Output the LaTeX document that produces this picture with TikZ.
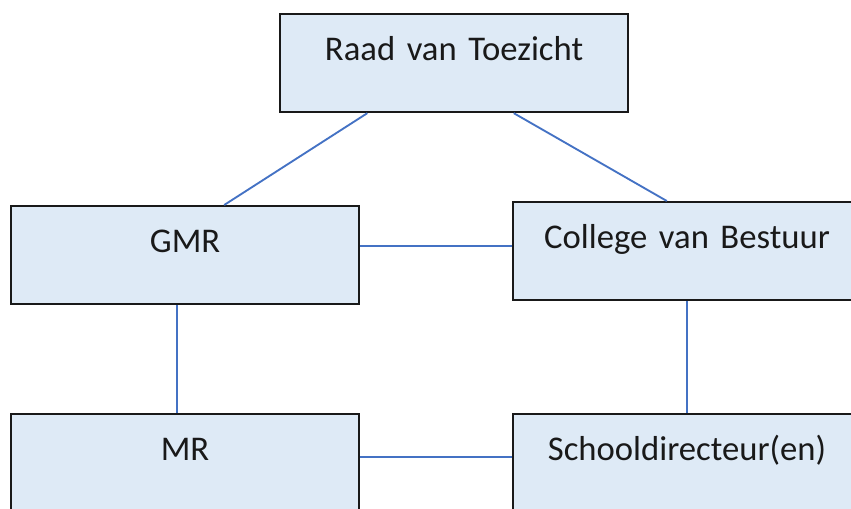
\documentclass[tikz,border=0pt]{standalone}
\usepackage{fontspec}
\setmainfont{Carlito}
\definecolor{boxblue}{HTML}{DEEAF6}
\definecolor{linkblue}{HTML}{4472C4}

\begin{document}
\begin{tikzpicture}[x=0.75pt,y=-0.75pt,
    orgbox/.style={draw=black!90,line width=1.6pt,fill=boxblue,anchor=north west,
      inner sep=0pt,text width=261pt,align=center,text height=34.5pt,text depth=39pt,
      font=\fontsize{26}{31}\selectfont,text=black!90},
    link/.style={draw=linkblue,line width=1.4pt}]
    \useasboundingbox (0,0) rectangle (851,508);
    \clip (0,0) rectangle (851,508);
    \coordinate (raadpos) at (279,13);
    \coordinate (gmrpos) at (10,205);
    \coordinate (cvbpos) at (512,201);
    \coordinate (mrpos) at (10,413);
    \coordinate (sdpos) at (512,413);
    \node[orgbox] (raad) at (raadpos) {Raad van Toezicht};
    \node[orgbox] (gmr) at (gmrpos) {GMR};
    \node[orgbox] (cvb) at (cvbpos) {College van Bestuur};
    \node[orgbox] (mr) at (mrpos) {MR};
    \node[orgbox] (sd) at (sdpos) {Schooldirecteur(en)};
    \draw[link](raad.210)--(gmr.52);
    \draw[link](raad.-40)--(cvb.112);
    \draw[link](gmr.3)--(gmr.3 -| cvb.west);
    \draw[link](gmr.261)--(gmr.261 |- mr.north);
    \draw[link](cvb.south)--(sd.north);
    \draw[link](mr.2)--(mr.2 -| sd.west);
  \end{tikzpicture}
\end{document}
